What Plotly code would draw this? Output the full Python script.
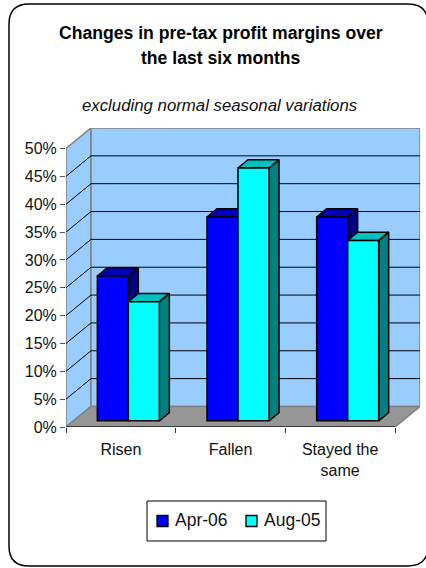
import plotly.graph_objects as go

categories = ["Risen", "Fallen", "Stayed the<br>same"]
series_names = ["Apr-06", "Aug-05"]
apr_06 = [26.0, 36.6, 36.6]
aug_05 = [21.4, 45.4, 32.4]
y_ticks = [0, 5, 10, 15, 20, 25, 30, 35, 40, 45, 50]

W, H = 426, 568
FONT = "Liberation Sans"

# oblique projection of the fake 3D box, in axis units
X_PX, Y_PX = 109.67, 5.56
DEPTH_X = 25 / X_PX
DEPTH_Y = 20.5 / Y_PX
BAR_W = 31 / X_PX
NEAR, FAR = 0.3, 0.7


def px_x(v):
    return v / W


def px_y(v):
    return 1 - v / H


def poly(points, color, line="#808080"):
    path = "M" + " L".join(f"{x},{y}" for x, y in points) + " Z"
    return dict(type="path", path=path, xref="x", yref="y", fillcolor=color,
                line=dict(color=line, width=1.5), layer="below")


def rule(x0, y0, x1, y1, color="black", width=1):
    return dict(type="line", x0=x0, y0=y0, x1=x1, y1=y1, xref="x", yref="y",
                line=dict(color=color, width=width), layer="below")


def paper_rect(x0, y0, x1, y1, color, line_width=1):
    return dict(type="rect", xref="paper", yref="paper", x0=px_x(x0), x1=px_x(x1), y0=px_y(y0), y1=px_y(y1),
                fillcolor=color, line=dict(color="black", width=line_width), layer="above")


def label(text, x, y, size, color="#111111", xanchor="center"):
    return dict(text=text, x=px_x(x), y=px_y(y), xref="paper", yref="paper", showarrow=False,
                xanchor=xanchor, yanchor="middle", font=dict(family=FONT, size=size, color=color))


shapes = [
    poly([(0, 0), (DEPTH_X, DEPTH_Y), (DEPTH_X, 50 + DEPTH_Y), (0, 50)], "#99CCFF"),
    poly([(DEPTH_X, DEPTH_Y), (3 + DEPTH_X, DEPTH_Y), (3 + DEPTH_X, 50 + DEPTH_Y), (DEPTH_X, 50 + DEPTH_Y)], "#99CCFF"),
    poly([(0, 0), (3, 0), (3 + DEPTH_X, DEPTH_Y), (DEPTH_X, DEPTH_Y)], "#969696"),
]
for t in y_ticks[1:-1]:
    shapes.append(rule(0, t, DEPTH_X, t + DEPTH_Y))
    shapes.append(rule(DEPTH_X, t + DEPTH_Y, 3 + DEPTH_X, t + DEPTH_Y))
shapes.append(rule(0, 0, 3, 0, "#222222", 1.5))

# outer rounded frame
r = 20
l, t_, rt, b = 9, 4, 428, 566
frame = (
    f"M{px_x(l)},{px_y(t_ + r)} Q{px_x(l)},{px_y(t_)} {px_x(l + r)},{px_y(t_)} "
    f"L{px_x(rt - r)},{px_y(t_)} Q{px_x(rt)},{px_y(t_)} {px_x(rt)},{px_y(t_ + r)} "
    f"L{px_x(rt)},{px_y(b - r)} Q{px_x(rt)},{px_y(b)} {px_x(rt - r)},{px_y(b)} "
    f"L{px_x(l + r)},{px_y(b)} Q{px_x(l)},{px_y(b)} {px_x(l)},{px_y(b - r)} Z"
)
shapes.insert(0, dict(type="path", path=frame, xref="paper", yref="paper",
                      fillcolor="white", line=dict(color="black", width=1.5), layer="below"))

fig = go.Figure()

series = [
    (series_names[0], apr_06, -1, "#0000FF", "#0000B8", "#000080"),
    (series_names[1], aug_05, 0, "#00FFFF", "#00BFBF", "#008080"),
]
edge = dict(color="black", width=1.5)

# top and side faces sit on the base axes, fronts on the overlay so they cover them
for name, values, slot, front, top, side in series:
    for i, v in enumerate(values):
        x0 = i + 0.5 + NEAR * DEPTH_X + slot * BAR_W
        x1 = x0 + BAR_W
        base = NEAR * DEPTH_Y
        dx = (FAR - NEAR) * DEPTH_X
        dy = (FAR - NEAR) * DEPTH_Y
        fig.add_trace(go.Scatter(
            x=[x1, x1 + dx, x1 + dx, x1, x1], y=[base, base + dy, base + v + dy, base + v, base],
            mode="lines", fill="toself", fillcolor=side, line=edge,
            showlegend=False, hoverinfo="skip"))
        fig.add_trace(go.Scatter(
            x=[x0, x0 + dx, x1 + dx, x1, x0], y=[base + v, base + v + dy, base + v + dy, base + v, base + v],
            mode="lines", fill="toself", fillcolor=top, line=edge,
            showlegend=False, hoverinfo="skip"))

for name, values, slot, front, top, side in series:
    fig.add_trace(go.Bar(
        x=[i + 0.5 + NEAR * DEPTH_X for i in range(len(values))],
        y=values,
        base=[NEAR * DEPTH_Y] * len(values),
        name=name,
        marker=dict(color=front, line=edge),
        xaxis="x2", yaxis="y2",
        showlegend=False,
    ))

# legend box drawn by hand, plotly's swatch spacing is too wide for this box
shapes += [
    paper_rect(147, 501, 326, 541, "white"),
    paper_rect(157, 515.5, 168, 526.5, series[0][3], 1.3),
    paper_rect(246, 515.5, 257, 526.5, series[1][3], 1.3),
]

x_range = [0, 3 + DEPTH_X]
y_range = [0, 50 + DEPTH_Y]
x_domain = [px_x(66), px_x(420)]
y_domain = [px_y(427), px_y(128)]
font = dict(family=FONT, size=16, color="#111111")

fig.update_layout(
    width=W, height=H,
    margin=dict(l=0, r=0, t=0, b=0, autoexpand=False),
    paper_bgcolor="white",
    plot_bgcolor="rgba(0,0,0,0)",
    barmode="group",
    bargap=1 - 2 * BAR_W,
    bargroupgap=0,
    font=font,
    shapes=shapes,
    showlegend=False,
    xaxis=dict(domain=x_domain, range=x_range, tickvals=[0, 1, 2, 3], ticktext=["", "", "", ""],
               ticks="outside", ticklen=5, tickcolor="#333333", showgrid=False, zeroline=False,
               showline=False),
    yaxis=dict(domain=y_domain, range=y_range, tickvals=y_ticks,
               ticktext=[f"{t}%" for t in y_ticks], ticks="outside", ticklen=5,
               tickcolor="#555555", showgrid=False, zeroline=False, showline=False),
    xaxis2=dict(domain=x_domain, range=x_range, overlaying="x", side="bottom",
                tickvals=[0.5, 1.5, 2.5], ticktext=categories, ticks="outside", ticklen=8,
                tickcolor="rgba(0,0,0,0)", showgrid=False, zeroline=False, showline=False),
    yaxis2=dict(domain=y_domain, range=y_range, overlaying="y", visible=False),
    annotations=[
        label("<b>Changes in pre-tax profit margins over</b>", 221, 33, 17.6, "black"),
        label("<b>the last six months</b>", 221, 58, 17.6, "black"),
        label("<i>excluding normal seasonal variations</i>", 220, 106, 16.8),
        label(series_names[0], 172.5, 520, 17.5, xanchor="left"),
        label(series_names[1], 261.5, 520, 17.5, xanchor="left"),
    ],
)

fig.write_html("out.html", config=dict(displayModeBar=False),
               post_script="document.body.style.margin='0';")
